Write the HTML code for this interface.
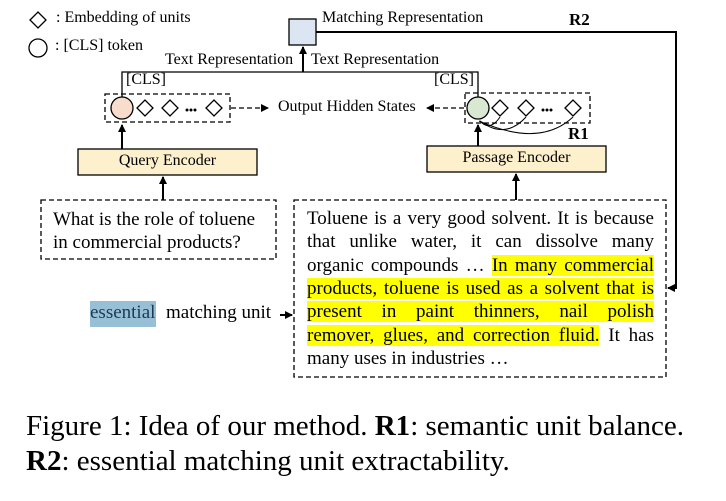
<!DOCTYPE html>
<html><head><meta charset="utf-8"><style>
body{margin:0;width:726px;height:501px;background:#fff;position:relative;overflow:hidden;font-family:"Liberation Serif",serif;color:#000}
.ab{position:absolute;white-space:nowrap}
.pl{position:absolute;left:307px;width:347px;height:23.3px;font-size:19px;line-height:23.3px;text-align:justify;text-align-last:justify;white-space:normal}
.hl{background:#ffff00}
</style></head><body>
<svg width="726" height="501" style="position:absolute;left:0;top:0">
<defs><marker id="a" markerWidth="8" markerHeight="8" refX="7" refY="4" orient="auto" markerUnits="userSpaceOnUse"><path d="M0,0 L8,4 L0,8 z" fill="#000"/></marker></defs>
<g stroke="#000" fill="none" stroke-width="1.3">
<path d="M30,20 L38,12 L46,20 L38,28 z" fill="#fff"/>
<circle cx="38" cy="48" r="9" fill="#fff"/>
<rect x="289" y="19" width="27" height="26" fill="#dce6f2"/>
<path d="M316,32 H676 V288 H668" stroke-width="2" marker-end="url(#a)"/>
<path d="M303,72 V47" stroke-width="2" marker-end="url(#a)"/>
<path d="M122,98 V72 H478 V97" stroke-width="1.3"/>
<rect x="105" y="94" width="125" height="28" stroke-dasharray="5,3"/>
<circle cx="122" cy="108" r="11" fill="#f8dccc"/>
<path d="M137,108 L145,100 L153,108 L145,116 z"/>
<path d="M162,108 L170,100 L178,108 L170,116 z"/>
<path d="M206,108 L214,100 L222,108 L214,116 z"/>
<path d="M231,108 H268" stroke-dasharray="5,3" marker-end="url(#a)"/>
<rect x="465" y="93" width="125" height="30" stroke-dasharray="5,3"/>
<circle cx="478" cy="108" r="11" fill="#d9e8d0"/>
<path d="M492,108 L500,100 L508,108 L500,116 z"/>
<path d="M518,108 L526,100 L534,108 L526,116 z"/>
<path d="M565,108 L573,100 L581,108 L573,116 z"/>
<path d="M464,108 H427" stroke-dasharray="5,3" marker-end="url(#a)"/>
<path d="M500,117 Q490,132 480,121" stroke-width="1"/>
<path d="M526,117 Q505,140 480,121" stroke-width="1"/>
<path d="M573,117 Q540,148 479,121" stroke-width="1"/>
<rect x="78" y="149" width="179" height="26" fill="#fdf0cc"/>
<rect x="427" y="146" width="179" height="26" fill="#fdf0cc"/>
<path d="M122,149 V125" stroke-width="2" marker-end="url(#a)"/>
<path d="M478,146 V125" stroke-width="2" marker-end="url(#a)"/>
<path d="M163,200 V177" stroke-width="2" marker-end="url(#a)"/>
<path d="M516,200 V174" stroke-width="2" marker-end="url(#a)"/>
<rect x="41" y="200" width="235" height="59" stroke-dasharray="5,3"/>
<rect x="294" y="200" width="372" height="177" stroke-dasharray="5,3"/>
<path d="M280,315 H292" stroke-width="2" marker-end="url(#a)"/>
</g>
<g fill="#000"><circle cx="187" cy="110" r="1.5"/><circle cx="191" cy="110" r="1.5"/><circle cx="195" cy="110" r="1.5"/>
<circle cx="543" cy="110" r="1.5"/><circle cx="547" cy="110" r="1.5"/><circle cx="551" cy="110" r="1.5"/></g>
</svg>
<div class="ab" style="left:56px;top:9px;font-size:16px">: Embedding of units</div>
<div class="ab" style="left:55px;top:37px;font-size:16px">: [CLS] token</div>
<div class="ab" style="left:322px;top:9px;font-size:16px">Matching Representation</div>
<div class="ab" style="left:569px;top:10px;font-size:17px;font-weight:bold">R2</div>
<div class="ab" style="left:165px;top:51px;font-size:16px">Text Representation</div>
<div class="ab" style="left:311px;top:51px;font-size:16px">Text Representation</div>
<div class="ab" style="left:126px;top:71px;font-size:16px">[CLS]</div>
<div class="ab" style="left:434px;top:71px;font-size:16px">[CLS]</div>
<div class="ab" style="left:278px;top:98px;font-size:16px">Output Hidden States</div>
<div class="ab" style="left:568px;top:124px;font-size:17px;font-weight:bold">R1</div>
<div class="ab" style="left:78px;top:152px;width:179px;text-align:center;font-size:16px">Query Encoder</div>
<div class="ab" style="left:427px;top:149px;width:179px;text-align:center;font-size:16px">Passage Encoder</div>
<div class="ab" style="left:53px;top:208px;font-size:19px;line-height:23px">What is the role of toluene<br>in commercial products?</div>
<div class="ab" style="left:90px;top:301px;width:66px;height:26px;background:#97bfd6"></div>
<div class="ab" style="left:90px;top:302px;font-size:19px;color:#1a3a55">essential</div>
<div class="ab" style="left:166px;top:302px;font-size:19px">matching unit</div>
<div class="pl" style="top:207px">Toluene is a very good solvent. It is because</div>
<div class="pl" style="top:230.3px">that unlike water, it can dissolve many</div>
<div class="pl" style="top:253.6px">organic compounds … <span class="hl">In many commercial</span></div>
<div class="pl" style="top:276.9px"><span class="hl">products, toluene is used as a solvent that is</span></div>
<div class="pl" style="top:300.2px"><span class="hl">present in paint thinners, nail polish</span></div>
<div class="pl" style="top:323.5px"><span class="hl">remover, glues, and correction fluid.</span> It has</div>
<div class="pl" style="top:346.8px;text-align-last:left">many uses in industries …</div>
<div class="ab" style="left:26px;top:410px;font-size:29px">Figure 1: Idea of our method. <b>R1</b>: semantic unit balance.</div>
<div class="ab" style="left:26px;top:445px;font-size:29px"><b>R2</b>: essential matching unit extractability.</div>
</body></html>
